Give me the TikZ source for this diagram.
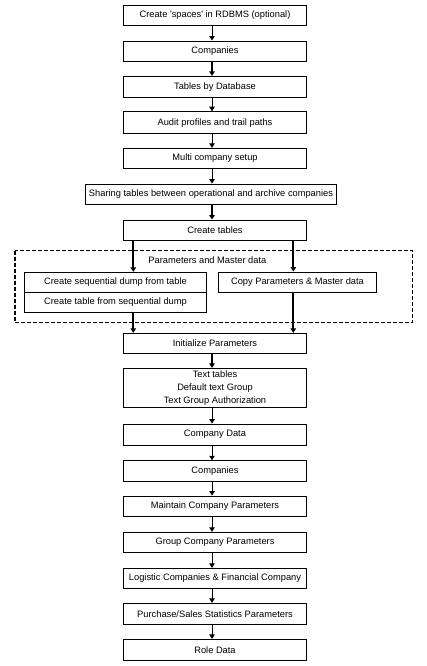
\documentclass[tikz,border=0pt]{standalone}
\usepackage{fontspec}
\setmainfont{Liberation Sans}
\usetikzlibrary{arrows.meta}
\begin{document}
\begin{tikzpicture}[x=1pt,y=-1pt,
 box/.style={draw,line width=0.9pt,inner sep=0pt,minimum width=183.4pt,font=\fontsize{9.3}{12.8}\selectfont,align=center},
 arr/.style={-{Triangle[length=4.5pt,width=5.5pt]},line width=0.9pt},
 tarr/.style={arr,line width=1.8pt},
 dashbox/.style={draw,line width=1.2pt,dash pattern=on 4pt off 2pt}]
\useasboundingbox (0,0) rectangle (427,666);
\node[box,minimum height=20.7pt] (n1) at (215,15.35) {Create \textquotesingle spaces\textquotesingle\ in RDBMS (optional)};
\node[box,minimum height=20.7pt] (n2) at (215,51.35) {Companies};
\node[box,minimum height=21.4pt] (n3) at (215,87) {Tables by Database};
\node[box,minimum height=22pt] (n4) at (215,122.7) {Audit profiles and trail paths};
\node[box,minimum height=20.4pt] (n5) at (215,158.5) {Multi company setup};
\node[box,minimum height=20.7pt,minimum width=251.4pt] (n6) at (211,194.35) {Sharing tables between operational and archive companies};
\node[box,minimum height=20pt] (n7) at (215,230) {Create tables};
\draw[dashbox] (15,250.7) rectangle (412.7,322.3);
\node[font=\fontsize{9.3}{10}\selectfont] (lbl) at (207.4,260) {Parameters and Master data};
\node[box,minimum height=20pt,minimum width=182.4pt] (dA) at (115.5,282.3) {Create sequential dump from table};
\node[box,minimum height=20pt,minimum width=182.4pt] (dB) at (115.5,302.3) {Create table from sequential dump};
\node[box,minimum height=20pt,minimum width=158.4pt] (cp) at (297.5,282) {Copy Parameters \& Master data};
\node[box,minimum height=20pt] (n8) at (215,343.3) {Initialize Parameters};
\node[box,minimum height=39pt] (n9) at (215,387.8) {Text tables\\Default text Group\\Text Group Authorization};
\node[box,minimum height=21.3pt] (n10) at (215,434.65) {Company Data};
\node[box,minimum height=20.6pt] (n11) at (215,471) {Companies};
\node[box,minimum height=20.7pt] (n12) at (215,506.35) {Maintain Company Parameters};
\node[box,minimum height=20pt] (n13) at (215,542.3) {Group Company Parameters};
\node[box,minimum height=20pt] (n14) at (215,578.3) {Logistic Companies \& Financial Company};
\node[box,minimum height=21pt] (n15) at (215,613.8) {Purchase/Sales Statistics Parameters};
\node[box,minimum height=21.4pt] (n16) at (215,650) {Role Data};
\coordinate (xa) at (212,0);
\coordinate (xl) at (133.3,0);
\coordinate (xr) at (293.3,0);
\draw[arr] (n1.south -| xa) -- (n2.north -| xa);
\draw[tarr] (n2.south -| xa) -- (n3.north -| xa);
\draw[arr] (n3.south -| xa) -- (n4.north -| xa);
\draw[arr] (n4.south -| xa) -- (n5.north -| xa);
\draw[arr] (n5.south -| xa) -- (n6.north -| xa);
\draw[tarr] (n6.south -| xa) -- (n7.north -| xa);
\draw[tarr] (n7.south -| xl) -- (dA.north -| xl);
\draw[tarr] (n7.south -| xr) -- (cp.north -| xr);
\draw[tarr] (dB.south -| xl) -- (n8.north -| xl);
\draw[tarr] (cp.south -| xr) -- (n8.north -| xr);
\draw[tarr] (n8.south -| xa) -- (n9.north -| xa);
\draw[arr] (n9.south -| xa) -- (n10.north -| xa);
\draw[arr] (n10.south -| xa) -- (n11.north -| xa);
\draw[arr] (n11.south -| xa) -- (n12.north -| xa);
\draw[arr] (n12.south -| xa) -- (n13.north -| xa);
\draw[arr] (n13.south -| xa) -- (n14.north -| xa);
\draw[arr] (n14.south -| xa) -- (n15.north -| xa);
\draw[arr] (n15.south -| xa) -- (n16.north -| xa);
\end{tikzpicture}
\end{document}
